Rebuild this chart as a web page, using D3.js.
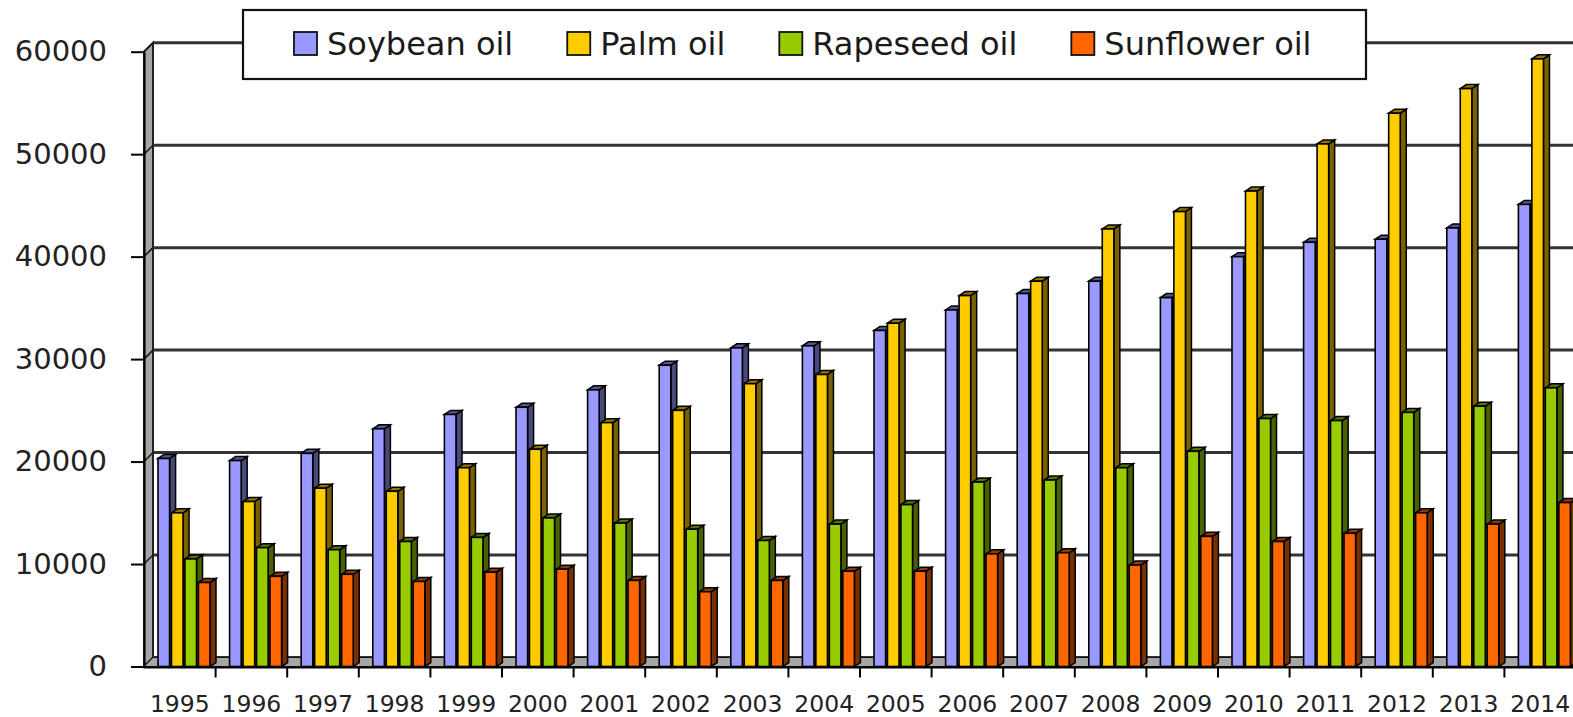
<!DOCTYPE html>
<html>
<head>
<meta charset="utf-8">
<script src="https://cdn.jsdelivr.net/npm/d3@7"></script>
<style>
  body { margin: 0; background: #fff; }
  svg { display: block; font-family: 'DejaVu Sans', Verdana, sans-serif; }
</style>
</head>
<body>
<div id="chart"></div>
<script>
const years = ['1995', '1996', '1997', '1998', '1999', '2000', '2001', '2002', '2003', '2004',
  '2005', '2006', '2007', '2008', '2009', '2010', '2011', '2012', '2013', '2014'];
const seriesNames = ['Soybean oil', 'Palm oil', 'Rapeseed oil', 'Sunflower oil'];
const soybean = [20300, 20100, 20800, 23200, 24600, 25300, 27000, 29400, 31100, 31300,
  32800, 34800, 36400, 37600, 36000, 40000, 41400, 41700, 42800, 45100];
const palm = [15000, 16100, 17400, 17100, 19400, 21200, 23800, 25000, 27600, 28500,
  33500, 36200, 37600, 42700, 44400, 46400, 51000, 54000, 56400, 59300];
const rapeseed = [10500, 11600, 11400, 12200, 12600, 14500, 14000, 13400, 12300, 13900,
  15800, 18000, 18200, 19400, 21000, 24200, 24000, 24800, 25400, 27200];
const sunflower = [8200, 8800, 9000, 8300, 9200, 9500, 8400, 7300, 8400, 9300,
  9300, 11000, 11100, 9900, 12700, 12200, 13000, 15000, 13900, 16000];
const yTicks = [0, 10000, 20000, 30000, 40000, 50000, 60000];
const colors = ['#9999ff', '#ffcc00', '#99cc00', '#ff6600'];

const width = 1573;
const height = 717;
const wall = 9;       // depth of walls / floor
const depth = 6;      // depth of a bar (x), 4 up
const depthY = 4;

const series = [soybean, palm, rapeseed, sunflower];

const svg = d3.select('#chart').append('svg')
  .attr('width', width)
  .attr('height', height);

const x = d3.scaleBand()
  .domain(years)
  .range([144, 144 + 71.6 * years.length])
  .padding(0);

const x1 = d3.scaleBand()
  .domain(seriesNames)
  .range([14, 66])
  .paddingInner(0.14);

const y = d3.scaleLinear()
  .domain([0, 60000])
  .range([666.5, 51.7]);

const x0 = x.range()[0];
const xEnd = width + 20;

// left wall
svg.append('polygon')
  .attr('points', [[x0, y(0)], [x0, y(60000)], [x0 + wall, y(60000) - wall], [x0 + wall, y(0) - wall]].join(' '))
  .attr('fill', '#a6a6a6')
  .attr('stroke', '#111')
  .attr('stroke-width', 1.8);

// gridlines on the back wall
const grid = svg.append('g');
grid.selectAll('line.grid')
  .data(yTicks)
  .enter()
  .append('line')
  .attr('class', 'grid')
  .attr('x1', x0 + wall)
  .attr('x2', xEnd)
  .attr('y1', d => y(d) - wall)
  .attr('y2', d => y(d) - wall)
  .attr('stroke', '#333')
  .attr('stroke-width', 3);
grid.selectAll('line.diag')
  .data(yTicks)
  .enter()
  .append('line')
  .attr('class', 'diag')
  .attr('x1', x0)
  .attr('x2', x0 + wall)
  .attr('y1', d => y(d))
  .attr('y2', d => y(d) - wall)
  .attr('stroke', '#111')
  .attr('stroke-width', 1.5);

// floor
svg.append('polygon')
  .attr('points', [[x0, y(0)], [x0 + wall, y(0) - wall], [xEnd, y(0) - wall], [xEnd, y(0)]].join(' '))
  .attr('fill', '#a6a6a6')
  .attr('stroke', '#111')
  .attr('stroke-width', 1);

// bars
const groups = svg.selectAll('.cat')
  .data(years)
  .enter()
  .append('g')
  .attr('class', 'cat')
  .attr('transform', d => `translate(${x(d)},0)`);

const bw = x1.bandwidth();

groups.each(function (year, i) {
  const g = d3.select(this);
  seriesNames.forEach((name, s) => {
    const bx = x1(name);
    const top = y(series[s][i]);
    const bottom = y(0);
    const base = d3.color(colors[s]);
    const bar = g.append('g');
    bar.append('polygon')
      .attr('points', [[bx + bw, top], [bx + bw + depth, top - depthY], [bx + bw + depth, bottom - depthY], [bx + bw, bottom]].join(' '))
      .attr('fill', base.darker(2.1))
      .attr('stroke', '#000')
      .attr('stroke-width', 1.5);
    bar.append('polygon')
      .attr('points', [[bx, top], [bx + depth, top - depthY], [bx + bw + depth, top - depthY], [bx + bw, top]].join(' '))
      .attr('fill', base.darker(1.6))
      .attr('stroke', '#000')
      .attr('stroke-width', 1.5);
    bar.append('rect')
      .attr('x', bx)
      .attr('y', top)
      .attr('width', bw)
      .attr('height', bottom - top)
      .attr('fill', colors[s])
      .attr('stroke', '#000')
      .attr('stroke-width', 1.6);
  });
});

// y axis
const yAxis = svg.append('g')
  .attr('transform', `translate(${x0},0)`)
  .call(d3.axisLeft(y).tickValues(yTicks).tickSize(13).tickSizeOuter(0).tickPadding(24).tickFormat(d3.format('d')));
yAxis.select('.domain').attr('stroke', '#000').attr('stroke-width', 2.2);
yAxis.selectAll('.tick line').attr('stroke', '#000').attr('stroke-width', 2);
yAxis.selectAll('.tick text')
  .attr('font-size', 29)
  .attr('font-family', "'DejaVu Sans', Verdana, sans-serif")
  .attr('fill', '#222');

// x axis: line, boundary ticks, labels
const xAxis = svg.append('g');
xAxis.append('line')
  .attr('x1', x0)
  .attr('x2', xEnd)
  .attr('y1', y(0) + 1)
  .attr('y2', y(0) + 1)
  .attr('stroke', '#000')
  .attr('stroke-width', 2.2);
xAxis.selectAll('line.tick')
  .data(years)
  .enter()
  .append('line')
  .attr('class', 'tick')
  .attr('x1', d => x(d) + x.bandwidth())
  .attr('x2', d => x(d) + x.bandwidth())
  .attr('y1', y(0) + 1)
  .attr('y2', y(0) + 11)
  .attr('stroke', '#000')
  .attr('stroke-width', 2);
xAxis.selectAll('text')
  .data(years)
  .enter()
  .append('text')
  .attr('x', d => x(d) + x.bandwidth() / 2)
  .attr('y', 712)
  .attr('text-anchor', 'middle')
  .attr('font-size', 23.5)
  .attr('fill', '#222')
  .text(d => d);

// legend
const legend = svg.append('g');
legend.append('rect')
  .attr('x', 243)
  .attr('y', 10)
  .attr('width', 1123)
  .attr('height', 69)
  .attr('fill', '#fff')
  .attr('stroke', '#111')
  .attr('stroke-width', 2.2);

let lx = 294;
seriesNames.forEach((name, s) => {
  legend.append('rect')
    .attr('x', lx)
    .attr('y', 32)
    .attr('width', 23)
    .attr('height', 23)
    .attr('fill', colors[s])
    .attr('stroke', '#111')
    .attr('stroke-width', 1.8);
  const t = legend.append('text')
    .attr('x', lx + 33)
    .attr('y', 55)
    .attr('font-size', 32)
    .attr('fill', '#1a1a1a')
    .text(name);
  lx += 33 + t.node().getComputedTextLength() + 54;
});
</script>
</body>
</html>
